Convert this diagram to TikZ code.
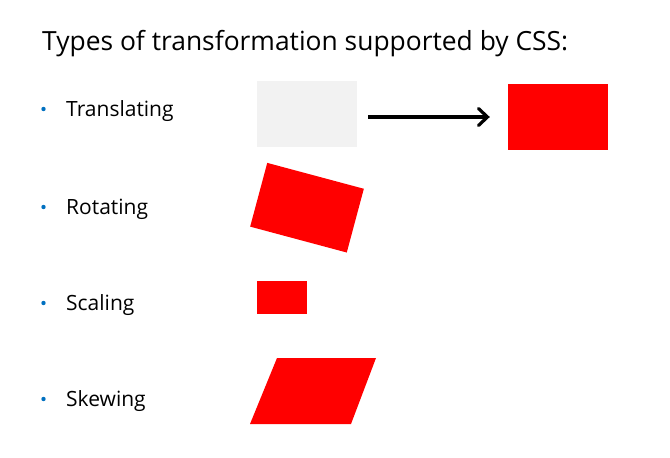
\documentclass[tikz,border=0pt]{standalone}
\usepackage{fontspec}
\setmainfont{Open Sans}
\usetikzlibrary{arrows.meta,calc}
\definecolor{bulletblue}{RGB}{0,112,192}
\definecolor{lightgraybox}{RGB}{242,242,242}
\definecolor{boxred}{RGB}{255,0,0}
\begin{document}
\begin{tikzpicture}[x=1pt,y=-1pt,
  titletext/.style={anchor=base west,inner sep=0pt,font=\fontsize{26.4}{31}\selectfont},
  itemtext/.style={anchor=base west,inner sep=0pt,font=\fontsize{21}{25}\selectfont},
  bulletdot/.style={circle,fill=bulletblue,inner sep=0pt,minimum size=4.4pt},
  redbox/.style={fill=boxred,draw=none,inner sep=0pt},
  graybox/.style={fill=lightgraybox,draw=none,inner sep=0pt},
  movearrow/.style={line width=3.2pt,-{Straight Barb[length=9pt,width=17pt,line cap=round]}}
]
\useasboundingbox (0,0) rectangle (670,458);
\node[titletext] (title) at (42,50) {Types of transformation supported by CSS:};

\node[bulletdot] (b1) at (43.5,109) {};
\node[itemtext] (t1) at (66,116) {Translating};
\node[bulletdot] (b2) at (43.5,207) {};
\node[itemtext] (t2) at (66,214) {Rotating};
\node[bulletdot] (b3) at (43.5,303) {};
\node[itemtext] (t3) at (66,310) {Scaling};
\node[bulletdot] (b4) at (43.5,399) {};
\node[itemtext] (t4) at (66,406) {Skewing};

% translating
\node[graybox,minimum width=100pt,minimum height=66pt] (gray) at (307,114) {};
\node[redbox,minimum width=100pt,minimum height=66pt] (moved) at (558,117) {};
\draw[movearrow,shorten <=11pt,shorten >=18pt] (moved.west -| gray.east) -- (moved.west);

% rotating
\node[redbox,minimum width=100pt,minimum height=66pt,rotate=-15] (rot) at (307,207.7) {};

% scaling
\node[redbox,minimum width=50pt,minimum height=33pt] (scaled) at (282,297.5) {};

% skewing
\fill[boxred] (277,358) coordinate (s1) -- (376,358) coordinate (s2) -- (351,424) coordinate (s3) -- (250,424) coordinate (s4) -- cycle;
\end{tikzpicture}
\end{document}
